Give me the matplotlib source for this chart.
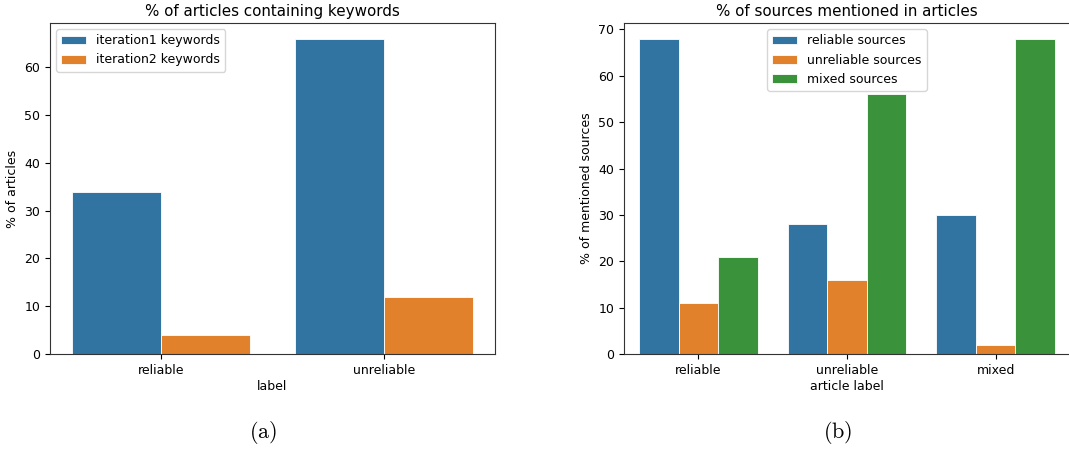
import numpy as np
import matplotlib.pyplot as plt

plt.rcParams['mathtext.fontset'] = 'cm'

# (a) keywords
kw_labels = ["reliable", "unreliable"]
kw_iter1 = [34, 66]
kw_iter2 = [4, 12]
kw_series = ["iteration1 keywords", "iteration2 keywords"]

# (b) sources
src_labels = ["reliable", "unreliable", "mixed"]
src_reliable = [68, 28, 30]
src_unreliable = [11, 16, 2]
src_mixed = [21, 56, 68]
src_series = ["reliable sources", "unreliable sources", "mixed sources"]

colors = ["#3274a1", "#e1812c", "#3a923a"]

W, H = 1069, 450
fig = plt.figure(figsize=(W / 100, H / 100), dpi=100)

ax1 = fig.add_axes([50 / W, 96 / H, 445 / W, 331 / H])
ax2 = fig.add_axes([624 / W, 96 / H, 446 / W, 331 / H])


def grouped_bars(ax, cats, series, names):
    n = len(series)
    w = 0.8 / n
    x = np.arange(len(cats))
    for i, (vals, name) in enumerate(zip(series, names)):
        ax.bar(x - 0.4 + w * (i + 0.5), vals, width=w, color=colors[i],
               edgecolor="white", linewidth=0.6, label=name)
    ax.set_xticks(x)
    ax.set_xticklabels(cats)
    ax.set_xlim(-0.5, len(cats) - 0.5)
    top = max(max(v) for v in series)
    ax.set_ylim(0, top * 1.05)
    ax.tick_params(labelsize=9, length=3.5)
    for s in ax.spines.values():
        s.set_color("#333333")


grouped_bars(ax1, kw_labels, [kw_iter1, kw_iter2], kw_series)
ax1.set_title("% of articles containing keywords", fontsize=10.9, pad=5)
ax1.set_xlabel("label", fontsize=9, labelpad=2)
ax1.set_ylabel("% of articles", fontsize=9)
ax1.legend(loc="upper left", fontsize=9, handlelength=2.0)

grouped_bars(ax2, src_labels, [src_reliable, src_unreliable, src_mixed], src_series)
ax2.set_title("% of sources mentioned in articles", fontsize=10.9, pad=5)
ax2.set_xlabel("article label", fontsize=9, labelpad=2)
ax2.set_ylabel("% of mentioned sources", fontsize=9)
ax2.legend(loc="upper center", fontsize=9, handlelength=2.0)

fig.text(263 / W, 1 - 433 / H, r"$\mathrm{(a)}$", fontsize=16, ha="center", va="center")
fig.text(838 / W, 1 - 433 / H, r"$\mathrm{(b)}$", fontsize=16, ha="center", va="center")

fig.savefig("out.png", dpi=100)
